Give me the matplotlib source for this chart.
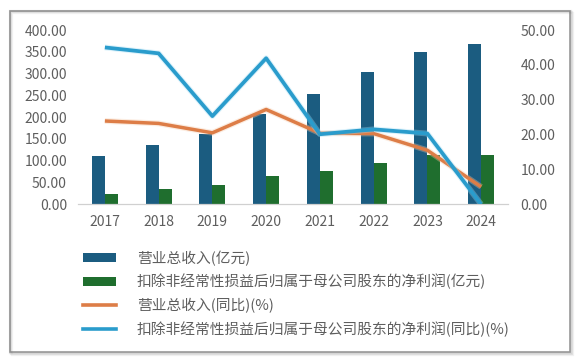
import matplotlib
matplotlib.use("Agg")
import matplotlib.pyplot as plt
import matplotlib.patheffects as pe
from matplotlib.patches import Rectangle, Patch
from matplotlib.lines import Line2D
import numpy as np

years = ["2017", "2018", "2019", "2020", "2021", "2022", "2023", "2024"]
revenue = [110, 135, 162, 208, 252, 303, 349, 368]          # 亿元
net_profit = [23, 34, 44, 65, 76, 94, 113, 113]             # 亿元
revenue_yoy = [23.9, 23.2, 20.5, 27.2, 20.4, 20.3, 15.5, 5.0]   # %
profit_yoy = [45.0, 43.3, 25.3, 41.9, 20.1, 21.5, 20.3, 0.0]    # %

labels = ["营业总收入(亿元)",
          "扣除非经常性损益后归属于母公司股东的净利润(亿元)",
          "营业总收入(同比)(%)",
          "扣除非经常性损益后归属于母公司股东的净利润(同比)(%)"]

BLUE, GREEN, ORANGE, CYAN = "#1b5c80", "#1f6e2e", "#dd7d47", "#2a9ccc"
GREY = "#5e5e5e"

plt.rcParams["font.family"] = ["Noto Sans CJK SC", "DejaVu Sans"]

W, H = 579, 362
fig = plt.figure(figsize=(W / 100, H / 100), dpi=100)
fig.patch.set_facecolor("white")

# frame with soft shadow
for i, a in enumerate([0.10, 0.14, 0.20]):
    d = 3 - i
    fig.patches.append(Rectangle(((10 + d - 1) / W, 1 - (352 + d) / H),
                                 (560 + 1) / W, (341 + 1) / H,
                                 transform=fig.transFigure, facecolor="none",
                                 edgecolor="#808080", lw=1.6, alpha=a))
fig.patches.append(Rectangle((10 / W, 1 - 352 / H), 560 / W, 341 / H,
                             transform=fig.transFigure, facecolor="white",
                             edgecolor="#9a9a9a", lw=1.2, zorder=-1))

ax = fig.add_axes([78 / W, 1 - 204.3 / H, 430 / W, (204.3 - 30) / H])
ax.set_facecolor("none")
bx = ax.twinx()

x = np.arange(len(years))
w = 0.24
ax.bar(x - w / 2, revenue, width=w, color=BLUE, zorder=2)
ax.bar(x + w / 2, net_profit, width=w, color=GREEN, zorder=2)

glow = lambda c: [pe.Stroke(linewidth=4.2, foreground=c, alpha=0.35), pe.Normal()]
bx.plot(x, revenue_yoy, color=ORANGE, lw=2.5, solid_capstyle="butt",
        path_effects=glow("#f5c9a8"))
bx.plot(x, profit_yoy, color=CYAN, lw=2.7, solid_capstyle="butt",
        path_effects=glow("#9fdcf5"))

ax.set_xlim(-0.5, len(years) - 0.5)
ax.set_ylim(0, 400)
bx.set_ylim(0, 50)
ax.set_yticks(np.arange(0, 401, 50))
bx.set_yticks(np.arange(0, 51, 10))
ax.yaxis.set_major_formatter(lambda v, p: f"{v:.2f}")
bx.yaxis.set_major_formatter(lambda v, p: f"{v:.2f}")
ax.set_xticks(x)
ax.set_xticklabels(years)

for a in (ax, bx):
    for sp in a.spines.values():
        sp.set_visible(False)
    a.tick_params(length=0, labelsize=10, labelcolor=GREY)
ax.tick_params(axis="y", pad=8)
bx.tick_params(axis="y", pad=9)
ax.tick_params(axis="x", pad=8)
ax.spines["bottom"].set_visible(True)
ax.spines["bottom"].set_color("#d0d0d0")
ax.spines["bottom"].set_linewidth(0.9)

handles = [Patch(facecolor=BLUE), Patch(facecolor=GREEN),
           Line2D([], [], color=ORANGE, lw=2.6),
           Line2D([], [], color=CYAN, lw=2.6)]
fig.legend(handles, labels, loc="upper left",
           bbox_to_anchor=(83 / W, 1 - 250.5 / H), frameon=False,
           fontsize=10.6, labelcolor=GREY, handlelength=2.25,
           handleheight=0.62, handletextpad=1.4, labelspacing=0.56,
           borderpad=0, borderaxespad=0)

fig.savefig("out.png", dpi=100)
